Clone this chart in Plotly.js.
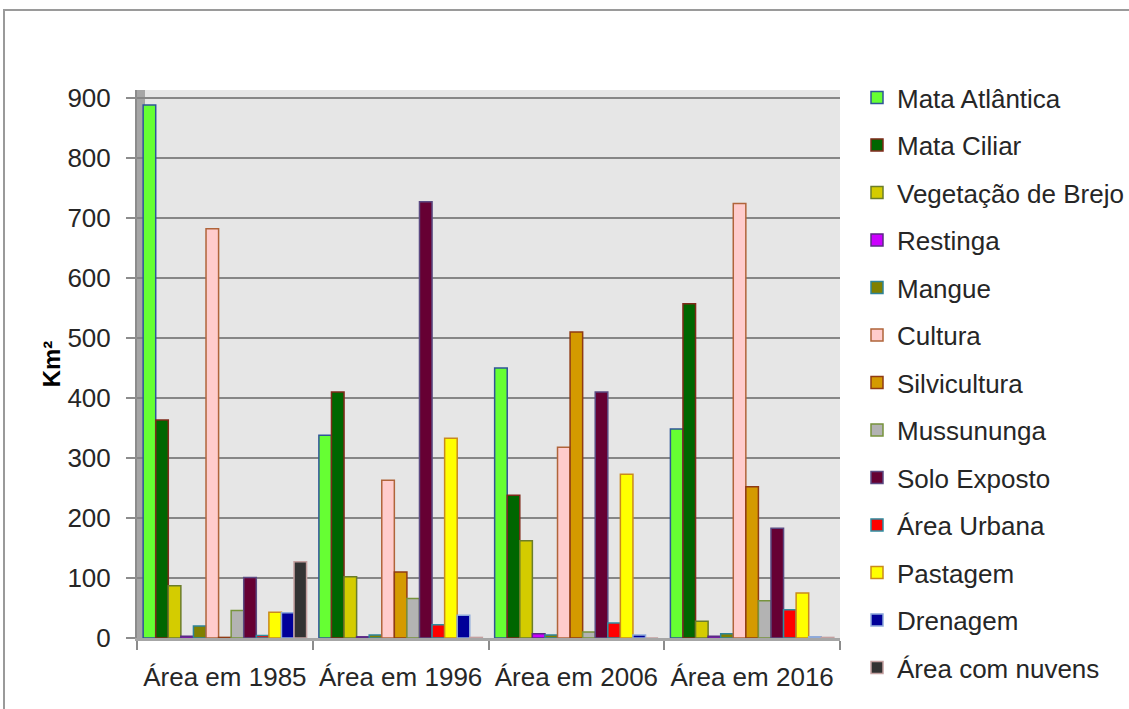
<!DOCTYPE html>
<html>
<head>
<meta charset="utf-8">
<script src="https://cdn.plot.ly/plotly-3.0.1.min.js"></script>
<style>
  html, body { margin: 0; padding: 0; background: #ffffff; }
  #chart { width: 1129px; height: 709px; }
</style>
</head>
<body>
<div id="chart"></div>
<script>
// ---- Data ----
var categories = ['Área em 1985', 'Área em 1996', 'Área em 2006', 'Área em 2016'];

var seriesNames = ['Mata Atlântica', 'Mata Ciliar', 'Vegetação de Brejo', 'Restinga', 'Mangue',
  'Cultura', 'Silvicultura', 'Mussununga', 'Solo Exposto', 'Área Urbana', 'Pastagem',
  'Drenagem', 'Área com nuvens'];

var mataAtlantica    = [888, 338, 450, 348];
var mataCiliar       = [363, 410, 238, 557];
var vegetacaoBrejo   = [87, 102, 162, 28];
var restinga         = [3, 2, 7, 3];
var mangue           = [20, 5, 5, 7];
var cultura          = [682, 263, 318, 724];
var silvicultura     = [1, 110, 510, 252];
var mussununga       = [46, 66, 10, 62];
var soloExposto      = [101, 727, 410, 183];
var areaUrbana       = [4, 22, 25, 47];
var pastagem         = [43, 333, 273, 75];
var drenagem         = [42, 38, 5, 2];
var areaComNuvens    = [127, 1, 0, 1];

var yTickVals = [0, 100, 200, 300, 400, 500, 600, 700, 800, 900];

// ---- Styles ----
var fillColors = ['#66ff33', '#006600', '#d4cc00', '#cc00ff', '#808000', '#ffcccc', '#d49a00',
  '#b3b3b3', '#660033', '#ff0000', '#ffff00', '#000099', '#333333'];
var lineColors = ['#2f5597', '#7f2a1a', '#6b7d2a', '#5b2a86', '#2e8499', '#b0643a', '#8f3b14',
  '#77933c', '#5b4a82', '#2e8ca0', '#c98a1c', '#8eaadb', '#c4a0a0'];

var allValues = [mataAtlantica, mataCiliar, vegetacaoBrejo, restinga, mangue, cultura,
  silvicultura, mussununga, soloExposto, areaUrbana, pastagem, drenagem, areaComNuvens];

var traces = allValues.map(function (vals, i) {
  return {
    type: 'bar',
    name: seriesNames[i],
    legendgroup: 'g' + i,
    x: categories,
    y: vals,
    marker: { color: fillColors[i], line: { color: lineColors[i], width: 1.5 } },
    hoverinfo: 'x+y+name'
  };
});

var W = 1129, H = 709;
var plotL = 137, plotR = 840, plotT = 90, plotB = 638;
var pw = plotR - plotL, ph = plotB - plotT;
function px(x) { return (x - plotL) / pw; }
function py(y) { return (plotB - y) / ph; }

var textFont = 'Liberation Sans, Arial, sans-serif';
var fs = 26;

var layout = {
  width: W,
  height: H,
  paper_bgcolor: '#ffffff',
  plot_bgcolor: '#e6e6e6',
  margin: { l: plotL, r: W - plotR, t: plotT, b: H - plotB, autoexpand: false },
  barmode: 'group',
  bargap: 0.07,
  bargroupgap: 0,
  font: { family: textFont, size: fs, color: '#262626' },
  xaxis: {
    type: 'category',
    tickson: 'boundaries',
    ticks: 'outside',
    ticklen: 9,
    tickwidth: 2,
    tickcolor: '#8c8c8c',
    showline: true,
    linecolor: '#a6a6a6',
    linewidth: 3,
    showgrid: false,
    ticklabelstandoff: 14,
    tickfont: { family: textFont, size: fs, color: '#262626' },
    fixedrange: true
  },
  yaxis: {
    range: [0, 913],
    tickvals: yTickVals,
    ticks: 'outside',
    ticklen: 9,
    tickwidth: 2,
    tickcolor: '#8c8c8c',
    showline: true,
    linecolor: '#8c8c8c',
    linewidth: 2,
    showgrid: true,
    gridcolor: '#868686',
    gridwidth: 2,
    zeroline: false,
    ticklabelstandoff: 10,
    tickfont: { family: textFont, size: fs, color: '#262626' },
    title: { text: 'Km²', font: { family: textFont, size: 24, color: '#000000', weight: 'bold' }, standoff: 0 },
    fixedrange: true
  },
  legend: {
    x: px(857),
    y: py(74),
    xanchor: 'left',
    yanchor: 'top',
    maxheight: 660,
    bgcolor: 'rgba(0,0,0,0)',
    font: { family: textFont, size: fs, color: '#262626' },
    tracegroupgap: 10.7,
    traceorder: 'grouped'
  },
  shapes: [
    // outer chart frame
    { type: 'rect', xref: 'paper', yref: 'paper', x0: px(4), x1: px(1160), y0: py(740), y1: py(10),
      line: { color: '#9a9a9a', width: 2 }, fillcolor: 'rgba(0,0,0,0)', layer: 'below' },
    // left side wall
    { type: 'rect', xref: 'paper', yref: 'paper', x0: 0, x1: px(145), y0: 0, y1: 1,
      line: { width: 0 }, fillcolor: '#a6a6a6', layer: 'below' }
  ],
  showlegend: true
};

Plotly.newPlot('chart', traces, layout, { displayModeBar: false, staticPlot: true });
</script>
</body>
</html>
